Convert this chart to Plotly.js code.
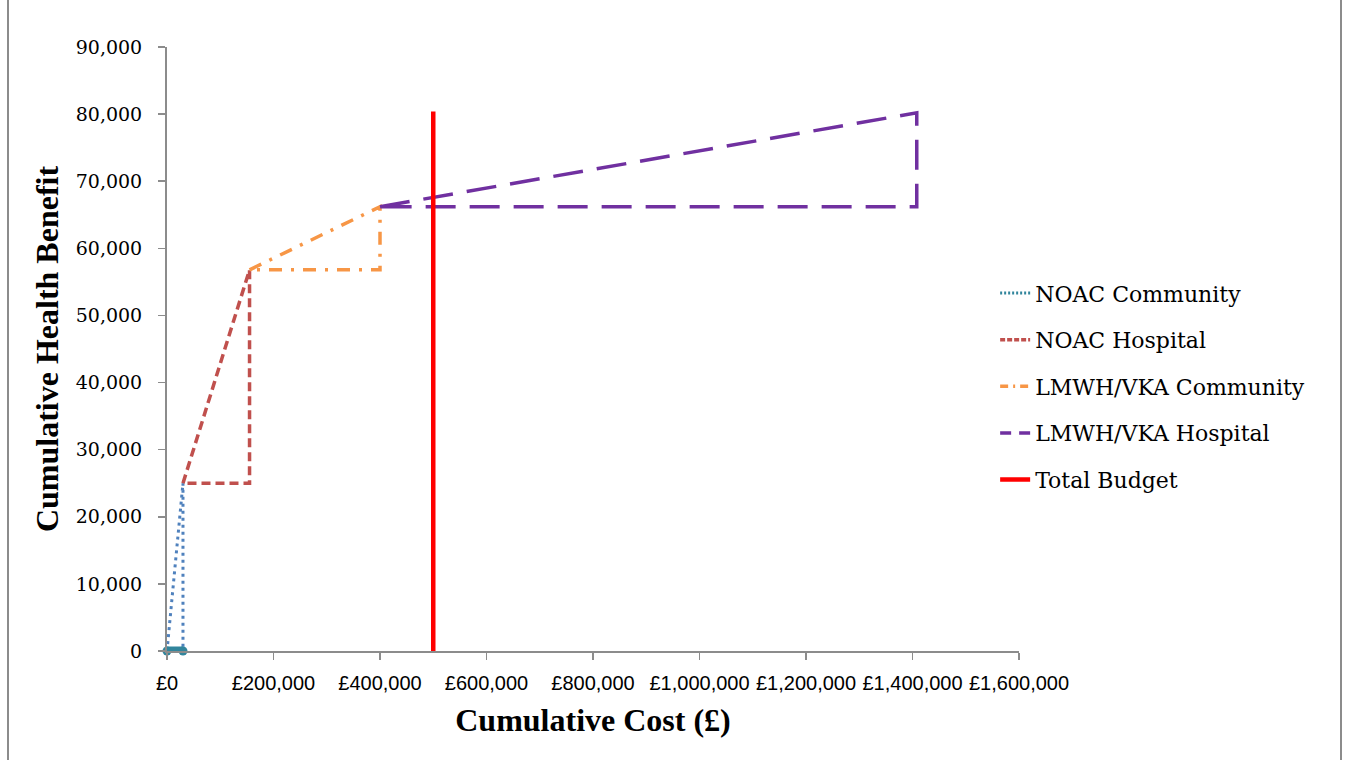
<!DOCTYPE html>
<html>
<head>
<meta charset="utf-8">
<script src="https://cdn.plot.ly/plotly-3.0.1.min.js"></script>
<style>
html,body{margin:0;padding:0;background:#fff;}
#chart{width:1347px;height:760px;}
#frame{position:absolute;left:7px;top:0;width:1331px;height:760px;border-left:2px solid #8c8c8c;border-right:2px solid #8c8c8c;pointer-events:none;}
</style>
</head>
<body>
<div id="chart"></div>
<div id="frame"></div>
<script>
// Cumulative cost (£) and cumulative health benefit for each step
const noacCommunityCost    = [0, 30000, 30000, 0];
const noacCommunityBenefit = [0, 25000, 0, 0];
const noacCommunityBaseCost    = [0, 30000];
const noacCommunityBaseBenefit = [0, 0];

const noacHospitalCost    = [30000, 155000, 155000, 30000];
const noacHospitalBenefit = [25000, 56800, 25000, 25000];

const lmwhCommunityCost    = [155000, 400000, 400000, 155000];
const lmwhCommunityBenefit = [56800, 66200, 56800, 56800];

const lmwhHospitalCost    = [400000, 1408000, 1408000, 400000];
const lmwhHospitalBenefit = [66200, 80200, 66200, 66200];

const budgetCost    = [500000, 500000];
const budgetBenefit = [0, 80400];

const seriesNames = ["NOAC Community", "NOAC Hospital", "LMWH/VKA Community", "LMWH/VKA Hospital", "Total Budget"];
const xTickVals = [0, 200000, 400000, 600000, 800000, 1000000, 1200000, 1400000, 1600000];
const xTickText = ["£0", "£200,000", "£400,000", "£600,000", "£800,000", "£1,000,000", "£1,200,000", "£1,400,000", "£1,600,000"];
const yTickVals = [0, 10000, 20000, 30000, 40000, 50000, 60000, 70000, 80000, 90000];
const yTickText = ["0", "10,000", "20,000", "30,000", "40,000", "50,000", "60,000", "70,000", "80,000", "90,000"];

const colors = ['#31859C', '#C0504D', '#F79646', '#7030A0', '#FF0000'];

const traces = [
  // plotted marks
  {x: noacCommunityCost, y: noacCommunityBenefit, mode: 'lines', showlegend: false,
   line: {color: '#4F81BD', width: 3, dash: '3px,4px'}, cliponaxis: false},
  {x: noacCommunityBaseCost, y: noacCommunityBaseBenefit, mode: 'lines+markers', showlegend: false,
   line: {color: colors[0], width: 9}, marker: {color: colors[0], size: 9}, cliponaxis: false},
  {x: noacHospitalCost, y: noacHospitalBenefit, mode: 'lines', showlegend: false,
   line: {color: colors[1], width: 3.5, dash: '9px,5px'}},
  {x: lmwhCommunityCost, y: lmwhCommunityBenefit, mode: 'lines', showlegend: false,
   line: {color: colors[2], width: 3.5, dash: '13px,9px,3px,9px'}},
  {x: lmwhHospitalCost, y: lmwhHospitalBenefit, mode: 'lines', showlegend: false,
   line: {color: colors[3], width: 3.5, dash: '30px,14px'}},
  {x: budgetCost, y: budgetBenefit, mode: 'lines', showlegend: false,
   line: {color: colors[4], width: 4.5}},
  // legend entries (short sample patterns to fit the legend swatch)
  {x: [null], y: [null], mode: 'lines', name: seriesNames[0], legendgroup: 'g1',
   line: {color: colors[0], width: 3, dash: '2px,2px'}},
  {x: [null], y: [null], mode: 'lines', name: seriesNames[1], legendgroup: 'g2',
   line: {color: colors[1], width: 3.5, dash: '5px,2px'}},
  {x: [null], y: [null], mode: 'lines', name: seriesNames[2], legendgroup: 'g3',
   line: {color: colors[2], width: 3.5, dash: '8px,5px,2px,5px'}},
  {x: [null], y: [null], mode: 'lines', name: seriesNames[3], legendgroup: 'g4',
   line: {color: colors[3], width: 3.5, dash: '11px,8px'}},
  {x: [null], y: [null], mode: 'lines', name: seriesNames[4], legendgroup: 'g5',
   line: {color: colors[4], width: 4.5}}
];

const layout = {
  width: 1347, height: 760,
  margin: {l: 167, r: 328, t: 47, b: 109},
  paper_bgcolor: '#ffffff', plot_bgcolor: '#ffffff',
  showlegend: true,
  legend: {x: 0.972, xanchor: 'left', y: 0.627, yanchor: 'top',
           font: {family: 'DejaVu Serif', size: 22, color: '#000'},
           tracegroupgap: 15, bgcolor: 'rgba(0,0,0,0)'},
  xaxis: {
    range: [0, 1600000], tickvals: xTickVals, ticktext: xTickText,
    showgrid: false, zeroline: false, showline: true, linecolor: '#8c8c8c', linewidth: 2,
    ticks: 'outside', ticklen: 7, tickcolor: '#8c8c8c', tickwidth: 1.5, ticklabelstandoff: 6,
    tickfont: {family: 'Liberation Sans', size: 20, color: '#000'},
    title: {text: '<b>Cumulative Cost (£)</b>', font: {family: 'Liberation Serif', size: 32, color: '#000'}, standoff: 16}
  },
  yaxis: {
    range: [0, 90000], tickvals: yTickVals, ticktext: yTickText,
    showgrid: false, zeroline: false, showline: true, linecolor: '#8c8c8c', linewidth: 2,
    ticks: 'outside', ticklen: 7, tickcolor: '#8c8c8c', tickwidth: 1.5, ticklabelstandoff: 12,
    tickfont: {family: 'DejaVu Serif', size: 19, color: '#000'},
    title: {text: '<b>Cumulative Health Benefit</b>', font: {family: 'Liberation Serif', size: 32, color: '#000'}, standoff: 8}
  }
};

Plotly.newPlot('chart', traces, layout, {displayModeBar: false, staticPlot: true});
</script>
</body>
</html>
